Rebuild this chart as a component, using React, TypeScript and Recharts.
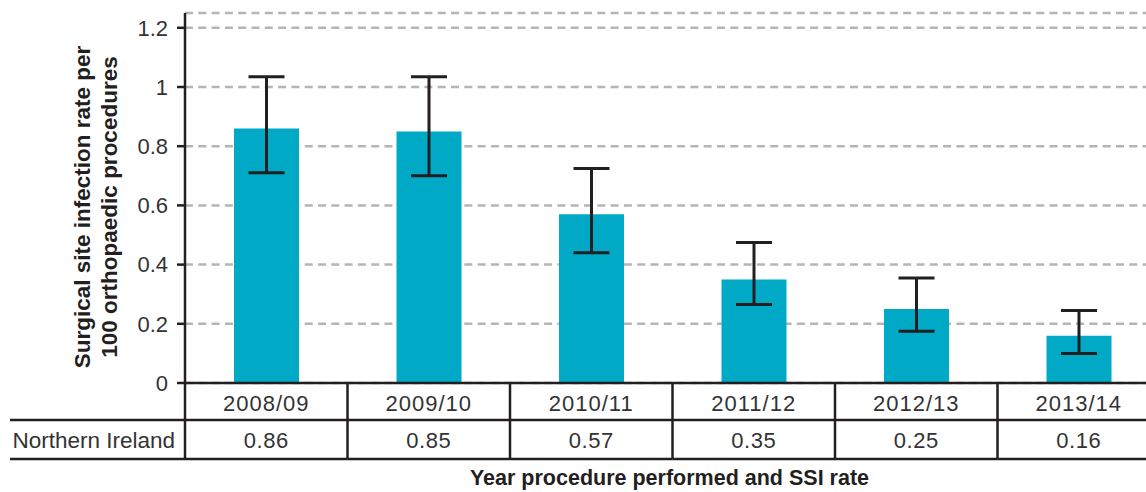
import { BarChart, Bar, XAxis, YAxis, CartesianGrid, ErrorBar } from "recharts";

const years = ["2008/09", "2009/10", "2010/11", "2011/12", "2012/13", "2013/14"];
const ssiRate = [0.86, 0.85, 0.57, 0.35, 0.25, 0.16];
const ciLower = [0.71, 0.7, 0.44, 0.265, 0.175, 0.1];
const ciUpper = [1.035, 1.035, 0.725, 0.475, 0.355, 0.245];
const yTicks = [0, 0.2, 0.4, 0.6, 0.8, 1, 1.2];
const rowLabel = "Northern Ireland";

const data = years.map((year, i) => ({
  year,
  rate: ssiRate[i],
  ci: [ssiRate[i] - ciLower[i], ciUpper[i] - ssiRate[i]],
}));

const CHART_W = 1170;
const CHART_H = 492;
const AXIS_W = 185;
const PLOT_W = CHART_W - AXIS_W - 10;
const BAND = PLOT_W / years.length;
const AXIS_Y = 383;
const ROW1_Y = 420;
const ROW2_Y = 459;

const INK = "#231f20";
const TEXT = "#333333";
const FONT = "'Liberation Sans', Arial, sans-serif";

// year + value table hanging under the x axis
const TableTick = (props: any) => {
  const { x, index, payload } = props;
  const left = x - BAND / 2;
  const right = x + BAND / 2;
  const lineLeft = index === 0 ? 10 : left;
  return (
    <g>
      <line x1={left} y1={AXIS_Y} x2={left} y2={ROW2_Y} stroke={INK} strokeWidth={2.5} />
      {index === years.length - 1 && (
        <line x1={right} y1={AXIS_Y} x2={right} y2={ROW2_Y} stroke={INK} strokeWidth={2.5} />
      )}
      <line x1={lineLeft} y1={ROW1_Y} x2={right} y2={ROW1_Y} stroke={INK} strokeWidth={2.5} />
      <line x1={lineLeft} y1={ROW2_Y} x2={right} y2={ROW2_Y} stroke={INK} strokeWidth={2.5} />
      <text x={x} y={411} textAnchor="middle" fontSize={22} letterSpacing={1} fill={TEXT} fontFamily={FONT}>
        {payload.value}
      </text>
      <text x={x} y={448} textAnchor="middle" fontSize={22} letterSpacing={0.5} fill={TEXT} fontFamily={FONT}>
        {ssiRate[index].toFixed(2)}
      </text>
      {index === 0 && (
        <text x={left - 10} y={448} textAnchor="end" fontSize={22.5} fill={TEXT} fontFamily={FONT}>
          {rowLabel}
        </text>
      )}
    </g>
  );
};

const YTitle = () => (
  <text
    transform="translate(90, 207) rotate(-90)"
    textAnchor="middle"
    fontSize={22.5}
    fontWeight="bold"
    fill={INK}
    fontFamily={FONT}
  >
    <tspan x={0} y={0}>Surgical site infection rate per</tspan>
    <tspan x={0} y={27}>100 orthopaedic procedures</tspan>
  </text>
);

const XTitle = (p: any) => (
  <text
    x={p.viewBox.x + p.viewBox.width / 2 - 3}
    y={485}
    textAnchor="middle"
    fontSize={21.5}
    fontWeight="bold"
    fill={INK}
    fontFamily={FONT}
  >
    Year procedure performed and SSI rate
  </text>
);

export default function App() {
  return (
    <div
      style={{
        position: "absolute",
        left: 0,
        top: 0,
        width: 1146,
        height: 492,
        overflow: "hidden",
        background: "#fff",
      }}
    >
      <BarChart
        width={CHART_W}
        height={CHART_H}
        data={data}
        margin={{ top: 13, right: 10, left: 0, bottom: 0 }}
      >
        <CartesianGrid vertical={false} stroke="#b5b5b5" strokeWidth={2.5} strokeDasharray="8 5.3" />
        <XAxis
          dataKey="year"
          height={CHART_H - AXIS_Y}
          axisLine={{ stroke: INK, strokeWidth: 2.5 }}
          tickLine={false}
          tick={<TableTick />}
          interval={0}
          label={{ content: <XTitle /> }}
        />
        <YAxis
          width={AXIS_W}
          domain={[0, 1.25]}
          ticks={yTicks}
          allowDataOverflow
          axisLine={{ stroke: INK, strokeWidth: 2.5 }}
          tickLine={{ stroke: INK, strokeWidth: 2.5 }}
          tickSize={8}
          tickMargin={9}
          tick={{ fill: TEXT, fontSize: 22, fontFamily: FONT }}
          label={{ content: <YTitle /> }}
        />
        <Bar dataKey="rate" fill="#00aac6" barSize={65} isAnimationActive={false}>
          <ErrorBar dataKey="ci" width={18} stroke={INK} strokeWidth={3} />
        </Bar>
      </BarChart>
    </div>
  );
}
